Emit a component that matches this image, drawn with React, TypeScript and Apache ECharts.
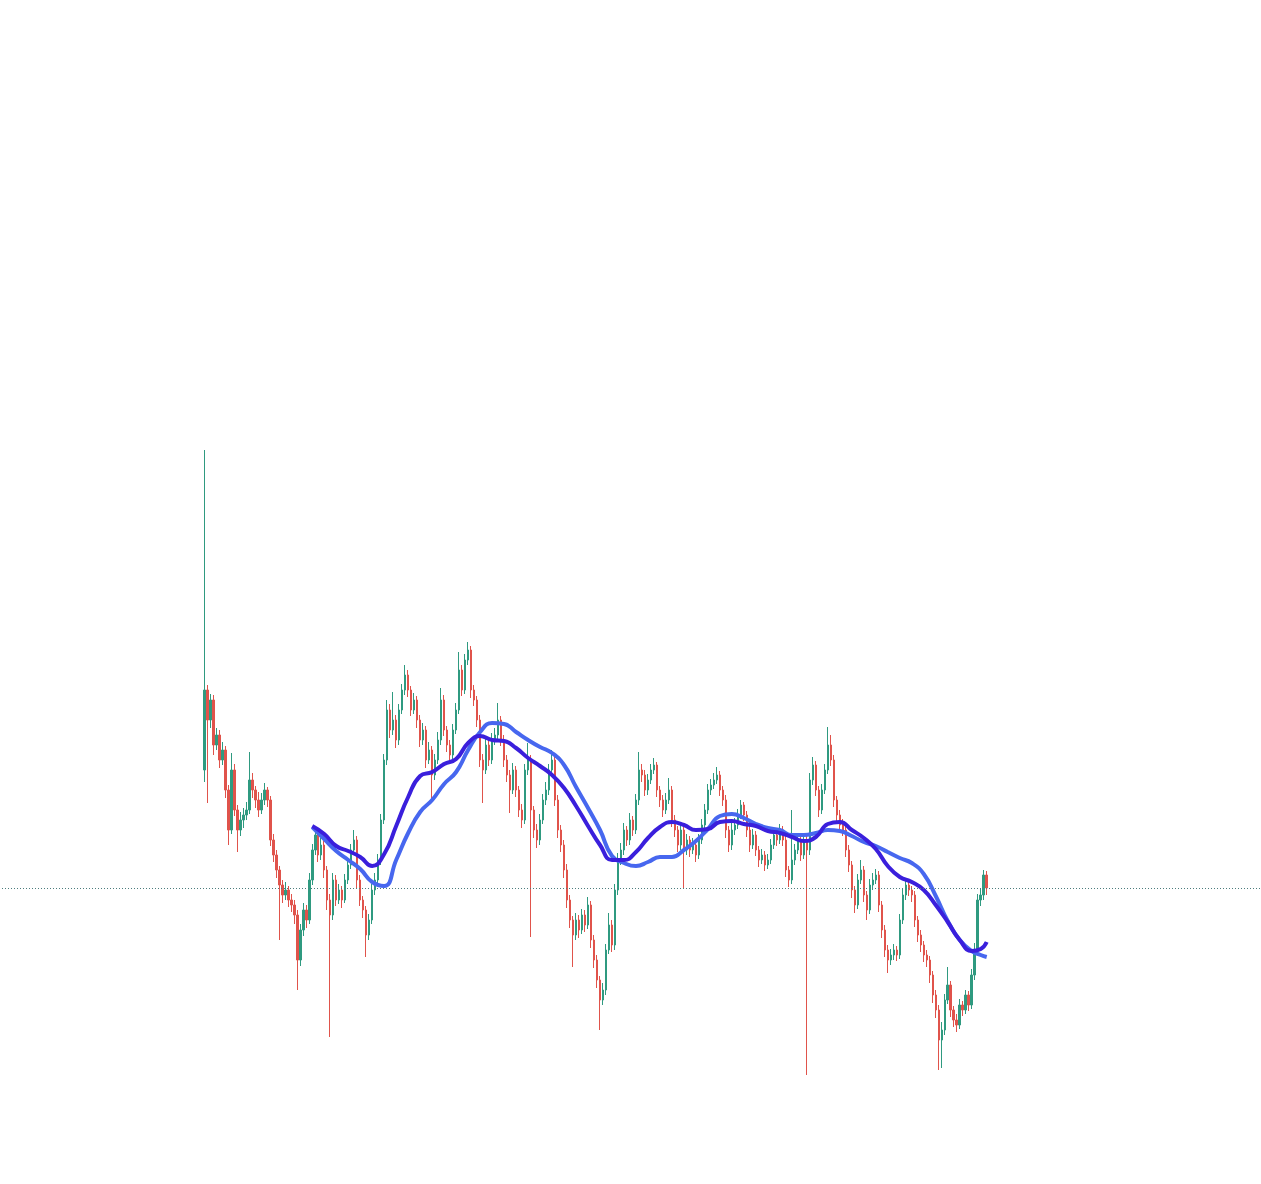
import React, { useEffect, useRef } from "react";
import * as echarts from "echarts";

// category padding before the first candle and total categories on the axis
const LEAD = 67;
const TOTAL_CATS = 420;

const firstOpen = 430;
const closes = [
  510, 480, 500, 455, 465, 440, 450, 410, 370, 430,
  390, 370, 380, 385, 390, 420, 410, 400, 390, 400,
  410, 400, 360, 345, 330, 315, 305, 310, 300, 295,
  285, 240, 270, 290, 280, 320, 350, 365, 345, 355,
  330, 300, 285, 320, 300, 310, 300, 320, 335, 350,
  360, 320, 300, 290, 265, 280, 310, 320, 340, 380,
  440, 490, 470, 480, 460, 490, 510, 525, 510, 490,
  500, 480, 460, 470, 440, 450, 425, 440, 460, 500,
  470, 455, 445, 470, 490, 530, 510, 540, 550, 510,
  500, 480, 440, 430, 455, 440, 460, 465, 480, 460,
  440, 425, 410, 430, 410, 390, 380, 430, 440, 390,
  370, 360, 380, 400, 410, 430, 440, 400, 370, 355,
  330, 300, 280, 265, 280, 270, 285, 275, 295, 260,
  240, 220, 200, 210, 250, 275, 255, 310, 340, 350,
  370, 360, 380, 370, 400, 430, 425, 410, 420, 430,
  435, 410, 400, 390, 400, 410, 380, 370, 355, 370,
  350, 360, 350, 355, 345, 360, 375, 390, 410, 415,
  420, 425, 410, 400, 370, 355, 370, 375, 385, 395,
  385, 370, 355, 365, 350, 340, 345, 335, 340, 355,
  365, 360, 370, 360, 330, 320, 340, 350, 360, 345,
  360, 350, 420, 435, 410, 390, 410, 430, 455, 440,
  400, 385, 375, 370, 350, 335, 310, 295, 320, 330,
  305, 290, 315, 320, 325, 295, 270, 250, 240, 245,
  250, 245, 280, 305, 315, 310, 305, 280, 265, 255,
  245, 240, 225, 205, 190, 160, 170, 200, 215, 190,
  180, 175, 195, 190, 205, 195, 225, 250, 300, 305,
  325, 312,
];
const highs = [
  750, 515, 506, 505, 472, 470, 458, 454, 415, 447,
  436, 395, 388, 392, 398, 448, 427, 414, 408, 407,
  417, 413, 404, 366, 350, 334, 320, 318, 314, 306,
  300, 290, 276, 297, 295, 327, 356, 372, 369, 362,
  359, 334, 306, 327, 325, 316, 314, 326, 342, 356,
  370, 364, 325, 304, 294, 286, 316, 327, 346, 386,
  446, 500, 496, 508, 485, 496, 516, 535, 530, 514,
  507, 504, 485, 477, 474, 458, 454, 446, 468, 512,
  505, 474, 460, 476, 497, 548, 535, 546, 558, 554,
  515, 504, 485, 446, 462, 460, 467, 472, 497, 484,
  465, 445, 430, 437, 434, 414, 396, 436, 457, 445,
  394, 376, 386, 406, 418, 436, 450, 444, 405, 375,
  360, 336, 305, 284, 287, 285, 291, 290, 303, 299,
  265, 245, 224, 217, 256, 287, 280, 316, 347, 357,
  377, 374, 387, 384, 406, 448, 436, 430, 426, 436,
  442, 438, 414, 405, 407, 422, 414, 385, 374, 377,
  375, 366, 364, 362, 359, 366, 381, 396, 416, 421,
  427, 433, 429, 414, 405, 374, 377, 382, 391, 400,
  398, 389, 374, 371, 369, 354, 351, 349, 346, 361,
  371, 369, 376, 374, 364, 334, 390, 356, 366, 364,
  366, 366, 427, 443, 439, 414, 416, 436, 473, 465,
  445, 404, 390, 381, 374, 355, 339, 314, 326, 340,
  334, 309, 321, 327, 331, 329, 299, 275, 255, 251,
  256, 254, 286, 311, 322, 320, 314, 309, 284, 270,
  259, 250, 244, 229, 210, 195, 178, 206, 233, 219,
  194, 186, 201, 199, 210, 209, 231, 257, 306, 312,
  330, 329,
];
const lows = [
  418, 397, 472, 445, 450, 432, 435, 402, 355, 366,
  384, 348, 364, 372, 380, 386, 402, 392, 383, 386,
  395, 393, 354, 338, 322, 260, 297, 300, 293, 288,
  276, 210, 234, 264, 272, 276, 315, 345, 338, 340,
  322, 290, 163, 280, 294, 296, 292, 297, 316, 331,
  346, 312, 294, 282, 243, 260, 276, 305, 316, 335,
  376, 435, 462, 465, 452, 455, 486, 505, 503, 484,
  486, 472, 453, 455, 432, 436, 400, 420, 436, 455,
  464, 448, 438, 441, 466, 486, 504, 506, 535, 502,
  494, 473, 433, 397, 426, 434, 436, 455, 460, 454,
  433, 418, 387, 406, 403, 383, 372, 376, 425, 263,
  362, 352, 355, 376, 395, 405, 426, 394, 362, 348,
  322, 292, 272, 233, 260, 262, 266, 268, 271, 252,
  232, 212, 170, 195, 205, 246, 248, 250, 305, 335,
  345, 354, 355, 364, 366, 395, 418, 404, 405, 416,
  426, 403, 393, 383, 386, 396, 373, 363, 348, 350,
  312, 345, 343, 346, 338, 341, 356, 370, 386, 405,
  411, 416, 404, 394, 362, 348, 350, 365, 371, 381,
  379, 363, 348, 351, 344, 333, 336, 329, 331, 336,
  351, 354, 356, 354, 323, 313, 316, 335, 346, 339,
  341, 125, 345, 415, 404, 383, 386, 406, 426, 434,
  393, 378, 369, 364, 343, 328, 302, 287, 291, 316,
  298, 280, 286, 310, 316, 288, 262, 243, 227, 235,
  240, 239, 241, 276, 300, 304, 298, 273, 258, 248,
  238, 233, 217, 197, 182, 130, 132, 165, 196, 183,
  173, 168, 171, 184, 186, 189, 191, 220, 245, 294,
  300, 305,
];

// moving-average lines, at these candle indices
const maIndex = [
  36, 40, 44, 48, 52, 56, 60, 64, 68, 72, 76, 80, 84, 88, 92, 96, 100, 104,
  108, 112, 116, 120, 124, 128, 132, 136, 140, 144, 148, 152, 156, 160, 164,
  168, 172, 176, 180, 184, 188, 192, 196, 200, 204, 208, 212, 216, 220, 224,
  228, 232, 236, 240, 244, 248, 252, 256, 259, 261,
];
const maFast = [
  374, 366, 354, 349, 343, 334, 346, 374, 403, 424, 428, 436, 441, 457, 464,
  460, 459, 452, 442, 434, 425, 412, 394, 374, 355, 340, 340, 348, 362, 373,
  378, 375, 370, 371, 378, 379, 376, 374, 369, 367, 363, 359, 363, 376, 378,
  370, 362, 351, 334, 323, 318, 310, 295, 278, 260, 249, 251, 258,
];
const maSlow = [
  373, 361, 349, 340, 331, 318, 314, 340, 367, 388, 400, 416, 428, 450, 468,
  477, 476, 468, 460, 453, 447, 435, 413, 392, 370, 344, 337, 334, 338, 343,
  343, 350, 359, 371, 384, 386, 382, 376, 372, 370, 365, 365, 367, 370, 369,
  364, 358, 354, 348, 342, 337, 326, 304, 279, 260, 249, 245, 243,
];
const lastPrice = 312;

const UP = "#2f9a80";
const DOWN = "#e0534b";

export default function App() {
  const ref = useRef<HTMLDivElement>(null);

  useEffect(() => {
    if (!ref.current) return;
    const chart = echarts.init(ref.current, null, { renderer: "svg" });
    const categories = Array.from({ length: TOTAL_CATS }, (_, k) => String(k - LEAD + 1));
    const padding: any[] = Array.from({ length: LEAD }, () => "-");
    const candles = closes.map((c, i) => {
      const o = i === 0 ? firstOpen : closes[i - 1];
      return [o, c, lows[i], highs[i]];
    });
    const fast = maIndex.map((k, j) => [k, maFast[j]]);
    const slow = maIndex.map((k, j) => [k, maSlow[j]]);

    chart.setOption({
      animation: false,
      backgroundColor: "#ffffff",
      grid: { left: 2, top: 0, width: 1260, height: 1184 },
      xAxis: [
        {
          type: "category",
          data: categories,
          show: false,
          boundaryGap: true,
        },
        {
          type: "value",
          min: -(LEAD + 0.5),
          max: TOTAL_CATS - LEAD - 0.5,
          show: false,
        },
      ],
      yAxis: {
        type: "value",
        min: 16,
        max: 1200,
        show: false,
        splitLine: { show: false },
      },
      series: [
        {
          type: "candlestick",
          xAxisIndex: 0,
          data: padding.concat(candles),
          barWidth: 2,
          itemStyle: {
            color: UP,
            color0: DOWN,
            borderColor: UP,
            borderColor0: DOWN,
            borderWidth: 1,
          },
          markLine: {
            silent: true,
            symbol: ["none", "none"],
            label: { show: false },
            lineStyle: { type: [1, 2], color: "#4d7d7d", width: 1 },
            data: [{ yAxis: lastPrice }],
          },
        },
        {
          type: "line",
          name: "MA slow",
          xAxisIndex: 1,
          data: slow,
          smooth: true,
          showSymbol: false,
          symbol: "none",
          lineStyle: { color: "#4767ef", width: 4 },
          z: 3,
        },
        {
          type: "line",
          name: "MA fast",
          xAxisIndex: 1,
          data: fast,
          smooth: true,
          showSymbol: false,
          symbol: "none",
          lineStyle: { color: "#3a1fdc", width: 4 },
          z: 4,
        },
      ],
    });
    return () => chart.dispose();
  }, []);

  return (
    <div
      ref={ref}
      style={{ position: "fixed", left: 0, top: 0, width: 1261, height: 1184 }}
    />
  );
}
